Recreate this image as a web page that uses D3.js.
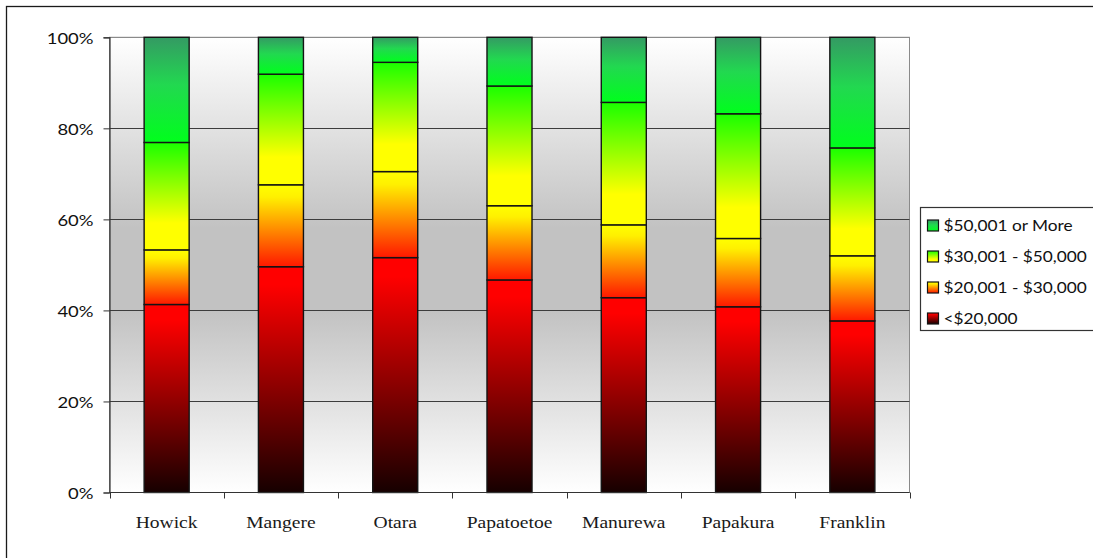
<!DOCTYPE html>
<html>
<head>
<meta charset="utf-8">
<script src="https://cdn.jsdelivr.net/npm/d3@7"></script>
<style>
  html, body { margin: 0; padding: 0; background: #ffffff; }
  svg { display: block; }
</style>
</head>
<body>
<svg id="chart" width="1093" height="558"></svg>
<script>
// Household income distribution by area (share of households, %)
const categories = ["Howick", "Mangere", "Otara", "Papatoetoe", "Manurewa", "Papakura", "Franklin"];
const seriesNames = ["<$20,000", "$20,001 - $30,000", "$30,001 - $50,000", "$50,001 or More"];
const under20k   = [41.3, 49.6, 51.6, 46.7, 42.8, 40.8, 37.7];
const from20to30 = [12.0, 18.0, 18.9, 16.3, 16.0, 15.0, 14.3];
const from30to50 = [23.6, 24.3, 24.0, 26.3, 26.9, 27.4, 23.7];
const over50k    = [23.1,  8.1,  5.5, 10.7, 14.3, 16.8, 24.3];
const yTicks = [0, 20, 40, 60, 80, 100];

const seriesValues = [under20k, from20to30, from30to50, over50k];

// vertical gradients per series (top -> bottom), applied per segment
const gradients = [
  { id: "g0", stops: [[0, "#ff0000"], [0.08, "#ff0000"], [1, "#160000"]] },
  { id: "g1", stops: [[0, "#ffff00"], [0.15, "#fff000"], [1, "#ff1800"]] },
  { id: "g2", stops: [[0, "#1aff00"], [0.75, "#ffff00"], [1, "#ffff00"]] },
  { id: "g3", stops: [[0, "#349a63"], [0.45, "#22d850"], [1, "#00ff1c"]] }
];

const svg = d3.select("#chart");
const defs = svg.append("defs");

gradients.forEach(g => {
  const lg = defs.append("linearGradient").attr("id", g.id)
    .attr("x1", 0).attr("y1", 0).attr("x2", 0).attr("y2", 1);
  g.stops.forEach(([o, c]) => lg.append("stop").attr("offset", o).attr("stop-color", c));
});

const bg = defs.append("linearGradient").attr("id", "plotBg")
  .attr("x1", 0).attr("y1", 0).attr("x2", 0).attr("y2", 1);
[[0, "#ffffff"], [0.42, "#c2c2c2"], [0.6, "#c2c2c2"], [1, "#ffffff"]]
  .forEach(([o, c]) => bg.append("stop").attr("offset", o).attr("stop-color", c));

// chart outer frame
svg.append("rect")
  .attr("x", 6.5).attr("y", 6.5).attr("width", 1200).attr("height", 700)
  .attr("fill", "#ffffff").attr("stroke", "#1a1a1a").attr("stroke-width", 1.3);

const plot = { left: 109.5, right: 909.5, top: 37.3, bottom: 492.5 };

const x = d3.scaleBand()
  .domain(categories)
  .range([plot.left, plot.right])
  .paddingInner(0.606)
  .paddingOuter(0.303);

const xEdges = d3.scaleBand().domain(categories).range([plot.left, plot.right]).padding(0);

const y = d3.scaleLinear().domain([0, 100]).range([plot.bottom, plot.top]);

// plot area background
svg.append("rect")
  .attr("x", plot.left).attr("y", plot.top)
  .attr("width", plot.right - plot.left).attr("height", plot.bottom - plot.top)
  .attr("fill", "url(#plotBg)").attr("stroke", "#8a8a8a").attr("stroke-width", 1);

// horizontal gridlines
svg.append("g")
  .selectAll("line")
  .data(yTicks.filter(t => t > 0))
  .join("line")
  .attr("x1", plot.left).attr("x2", plot.right)
  .attr("y1", d => Math.round(y(d)) + 0.5).attr("y2", d => Math.round(y(d)) + 0.5)
  .attr("stroke", d => d === 100 ? "#8a8a8a" : "#3c3c3c").attr("stroke-width", 1);

// stacked segments
const stackData = categories.map((c, i) => {
  const row = { category: c };
  seriesNames.forEach((s, k) => { row[s] = seriesValues[k][i]; });
  return row;
});
const stacked = d3.stack().keys(seriesNames)(stackData);

svg.append("g")
  .selectAll("g")
  .data(stacked)
  .join("g")
  .attr("fill", (d, k) => `url(#${gradients[k].id})`)
  .selectAll("rect")
  .data(d => d)
  .join("rect")
  .attr("x", d => x(d.data.category))
  .attr("width", x.bandwidth())
  .attr("y", d => y(d[1]))
  .attr("height", d => y(d[0]) - y(d[1]))
  .attr("stroke", "#141414")
  .attr("stroke-width", 1.4);

// y axis
const yAxis = d3.axisLeft(y).tickValues(yTicks).tickSize(6).tickFormat(d => d + "%");
const gy = svg.append("g").attr("transform", `translate(${plot.left},0)`).call(yAxis);
gy.select(".domain").attr("stroke", "#333").attr("stroke-width", 1.2);
gy.selectAll(".tick line").attr("stroke", "#333");
gy.selectAll(".tick text").remove();
gy.selectAll(".tick").append("text")
  .attr("transform", "translate(-16,0) scale(1.15,1)")
  .attr("dy", "0.36em")
  .attr("text-anchor", "end")
  .attr("fill", "#111")
  .style("font-family", "Lato, 'Open Sans', sans-serif")
  .style("font-size", "16px")
  .text(d => d + "%");

// x axis line with ticks at category edges
svg.append("line")
  .attr("x1", plot.left).attr("x2", plot.right)
  .attr("y1", plot.bottom).attr("y2", plot.bottom)
  .attr("stroke", "#333").attr("stroke-width", 1.2);
const edges = categories.map(c => xEdges(c)).concat([plot.right]);
svg.append("g").selectAll("line")
  .data(edges)
  .join("line")
  .attr("x1", d => Math.round(d) + 0.5).attr("x2", d => Math.round(d) + 0.5)
  .attr("y1", plot.bottom).attr("y2", plot.bottom + 6)
  .attr("stroke", "#333").attr("stroke-width", 1);

svg.append("g").selectAll("text")
  .data(categories)
  .join("text")
  .attr("transform", d => `translate(${x(d) + x.bandwidth() / 2},528) scale(1.15,1)`)
  .attr("text-anchor", "middle")
  .attr("fill", "#1a1a1a")
  .style("font-family", "'Liberation Serif', 'DejaVu Serif', serif")
  .style("font-size", "17px")
  .text(d => d);

// legend
const legend = svg.append("g").attr("transform", "translate(920.5,207.5)");
legend.append("rect")
  .attr("width", 200).attr("height", 123)
  .attr("fill", "#ffffff").attr("stroke", "#333").attr("stroke-width", 1.2);

const legendOrder = d3.range(seriesNames.length).reverse();
const items = legend.selectAll("g.item")
  .data(legendOrder)
  .join("g")
  .attr("class", "item")
  .attr("transform", (k, i) => `translate(0,${18 + i * 31})`);
items.append("rect")
  .attr("x", 7).attr("y", -5.5).attr("width", 11).attr("height", 11)
  .attr("fill", k => `url(#${gradients[k].id})`)
  .attr("stroke", "#141414").attr("stroke-width", 1.2);
items.append("text")
  .attr("transform", "translate(23,0) scale(1.08,1)")
  .attr("dy", "0.36em")
  .attr("fill", "#111")
  .style("font-family", "Lato, 'Open Sans', sans-serif")
  .style("font-size", "16px")
  .text(k => seriesNames[k]);
</script>
</body>
</html>
